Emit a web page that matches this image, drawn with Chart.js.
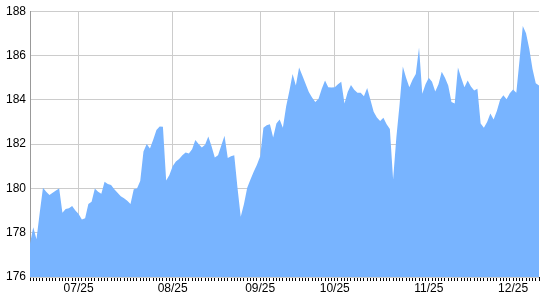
<!DOCTYPE html>
<html>
<head>
<meta charset="utf-8">
<script src="https://cdn.jsdelivr.net/npm/chart.js@4"></script>
<style>
  html, body { margin: 0; padding: 0; background: #fff; }
  #wrap { width: 540px; height: 300px; position: relative; }
</style>
</head>
<body>
<div id="wrap"><canvas id="chart"></canvas></div>
<script>
// price series, one value per point on the x axis
const prices = [
  177.5, 178.25, 177.7, 178.9, 180.03, 179.85, 179.7, 179.8, 179.9, 180.0,
  178.9, 179.07, 179.1, 179.2, 179.0, 178.84, 178.6, 178.65, 179.3, 179.4,
  180.0, 179.85, 179.76, 180.3, 180.2, 180.15, 179.96, 179.8, 179.65, 179.55,
  179.44, 179.3, 179.96, 180.0, 180.33, 181.67, 182.0, 181.8, 182.2, 182.64,
  182.8, 182.78, 180.36, 180.6, 181.0, 181.22, 181.33, 181.5, 181.62, 181.57,
  181.77, 182.19, 182.0, 181.85, 181.97, 182.34, 181.9, 181.4, 181.5, 181.94,
  182.38, 181.37, 181.45, 181.5, 180.03, 178.72, 179.3, 180.03, 180.4, 180.75,
  181.07, 181.45, 182.74, 182.85, 182.9, 182.3, 182.93, 183.11, 182.74, 183.7,
  184.4, 185.17, 184.65, 185.46, 185.1, 184.72, 184.35, 184.1, 183.9, 184.05,
  184.5, 184.87, 184.57, 184.55, 184.57, 184.7, 184.82, 183.83, 184.35, 184.67,
  184.45, 184.32, 184.32, 184.16, 184.53, 184.0, 183.46, 183.2, 183.04, 183.19,
  182.9, 182.68, 180.4, 182.3, 183.8, 185.5, 185.0, 184.57, 184.9, 185.17,
  186.36, 184.27, 184.7, 185.0, 184.82, 184.38, 184.7, 185.27, 185.0, 184.65,
  183.9, 183.83, 185.46, 185.0, 184.57, 184.87, 184.6, 184.42, 184.5, 182.93,
  182.74, 183.0, 183.38, 183.11, 183.5, 184.0, 184.2, 184.02, 184.3, 184.47,
  184.32, 185.8, 187.33, 187.0, 186.3, 185.39, 184.75, 184.65
];

// month labels and the point they sit on
const monthLabels = ['07/25', '08/25', '09/25', '10/25', '11/25', '12/25'];
const monthIndex = [15, 44, 71, 94, 123, 149];

const yMin = 176;
const yMax = 188;
const yStep = 2;

const labels = prices.map(() => '');
monthIndex.forEach((idx, k) => { labels[idx] = monthLabels[k]; });

const ctx = document.getElementById('chart').getContext('2d');
new Chart(ctx, {
  type: 'line',
  data: {
    labels: labels,
    datasets: [{
      data: prices,
      fill: 'start',
      backgroundColor: '#78b4ff',
      borderWidth: 0,
      pointRadius: 0,
      tension: 0
    }]
  },
  options: {
    responsive: true,
    maintainAspectRatio: false,
    animation: false,
    layout: { padding: { top: 8, right: 1, left: 0, bottom: 0 } },
    plugins: {
      legend: { display: false },
      tooltip: { enabled: false }
    },
    scales: {
      x: {
        offset: false,
        border: { display: false },
        grid: {
          color: (c) => (c.tick && c.tick.label) ? '#cccccc' : 'rgba(0,0,0,0)',
          tickColor: '#000',
          tickLength: 4,
          lineWidth: 1
        },
        ticks: {
          autoSkip: false,
          maxRotation: 0,
          padding: 0,
          color: '#000',
          font: { family: 'Liberation Sans, Arial', size: 12 }
        },
        afterFit: (scale) => { scale.height = 23; }
      },
      y: {
        min: yMin,
        max: yMax,
        border: { color: '#999', width: 1 },
        grid: { color: '#cccccc', drawTicks: false },
        ticks: {
          stepSize: yStep,
          padding: 4,
          color: '#000',
          font: { family: 'Liberation Sans, Arial', size: 12 }
        },
        afterFit: (scale) => { scale.width = 30; }
      }
    }
  }
});
</script>
</body>
</html>
